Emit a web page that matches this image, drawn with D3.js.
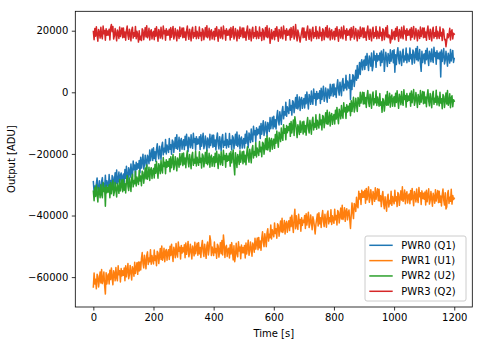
<!DOCTYPE html>
<html><head><meta charset="utf-8">
<script src="https://cdn.jsdelivr.net/npm/d3@7"></script>
<style>body{margin:0;background:#fff} svg{display:block} text{font-family:"DejaVu Sans",sans-serif}</style>
</head><body><svg id="c" width="483" height="347"></svg>
<script>
const seriesNames = ["PWR0 (Q1)", "PWR1 (U1)", "PWR2 (U2)", "PWR3 (Q2)"];
const timeStart = 0, timeStep = 2.5;
const pwr0 = [
-29000,-32500,-30400,-33500,-29700,-27800,-31300,-32800,-28700,-30700,-33200,-28900,-27700,-31800,-29700,-30900,-26900,-31600,-28700,-29900,
-31200,-26700,-30100,-28600,-31700,-27000,-27500,-31000,-28700,-26100,-29600,-25200,-29800,-28600,-25900,-30300,-27000,-26200,-29700,-27300,
-26500,-29500,-25100,-27900,-24000,-27000,-29300,-24500,-25500,-27600,-23300,-26300,-27300,-22300,-25100,-23600,-27300,-22700,-25000,-23200,
-24600,-22100,-26100,-21100,-24600,-22400,-20100,-24900,-23500,-20400,-22500,-24800,-20400,-21300,-23200,-18700,-22200,-20300,-18400,-22100,
-18000,-21500,-19300,-22400,-18600,-16700,-20100,-21600,-17500,-19400,-21800,-17500,-16200,-20300,-18200,-19400,-15300,-20000,-17100,-18200,
-19500,-15000,-18500,-17000,-20100,-15500,-16000,-19500,-17200,-14700,-18200,-13800,-18500,-17300,-14600,-19100,-15800,-15000,-18500,-16200,
-15400,-18600,-14300,-17300,-13600,-16700,-19200,-14600,-15700,-18000,-13800,-17000,-18200,-13300,-16300,-15000,-18800,-14400,-16900,-15200,
-16700,-14400,-18600,-13800,-17500,-15400,-13300,-18300,-17100,-14200,-16500,-19000,-14800,-15900,-18000,-13600,-17300,-15600,-13900,-17800,
-13900,-17500,-15500,-18700,-15000,-13200,-16800,-18400,-14400,-16500,-19000,-14800,-13700,-17900,-15900,-17200,-13300,-18100,-15300,-16600,
-17800,-13400,-16900,-15500,-18700,-14100,-14700,-18300,-16100,-13600,-17200,-12900,-17600,-16500,-13900,-18400,-15200,-14500,-18100,-15800,
-15000,-18100,-13600,-16500,-12600,-15600,-17900,-13200,-14100,-16300,-11900,-15000,-16000,-11000,-13800,-12400,-16000,-11500,-13800,-12000,
-13400,-11000,-15000,-10100,-13600,-11400,-9200,-14000,-12700,-9600,-11800,-14200,-9800,-10800,-12700,-8200,-11800,-9900,-8100,-11800,
-7800,-11200,-8900,-11900,-7900,-5900,-9200,-10600,-6300,-8200,-10400,-6000,-4600,-8600,-6300,-7400,-3200,-7800,-4700,-5800,
-6900,-2400,-5800,-4300,-7400,-2700,-3100,-6600,-4300,-1700,-5200,-800,-5400,-4200,-1500,-5900,-2500,-1700,-5200,-2800,
-2000,-5100,-800,-3700,100,-2900,-5400,-700,-1700,-3900,400,-2800,-3900,1100,-1900,-500,-4200,300,-2200,-400,
-1900,500,-3600,1300,-2300,-200,2000,-2900,-1600,1400,-800,-3200,1100,100,-1900,2600,-1100,700,2500,-1300,
2700,-800,1400,-1700,2100,4100,600,-900,3300,1300,-1100,3300,4500,500,2600,1400,5500,800,3700,2600,
1300,5800,-2300,3900,900,5700,5300,1900,4400,7200,3900,8700,4600,6400,9700,5800,9500,10600,7300,9700,
10500,7400,11700,8800,12600,9500,7100,11800,10700,8500,12800,7000,8500,13400,10500,11900,8100,12600,10200,11900,
10500,12800,8600,13400,9700,11800,13900,6800,10100,13000,10900,8400,12600,11500,9400,13800,10100,11800,13500,9600,
13800,6500,12200,9000,12700,14500,10900,9300,13300,11200,8700,12900,14000,9800,11800,10500,14400,9600,12400,11100,
10000,14400,10900,12300,9100,13700,13100,9500,11700,14200,10600,14900,10200,11300,13900,9400,6800,13300,9700,12000,
12500,9300,13600,10600,14300,11200,8700,13300,12200,9900,14100,10900,9700,14600,11600,12900,9100,13500,11000,12700,
10800,13100,5000,13700,10000,12100,14200,9200,10400,13300,11000,8500,12700,11600,9500,13900,10200,11900,13600,9700,
11000];
const pwr1 = [
-63200,-58700,-62200,-60700,-63800,-59100,-59700,-63200,-60900,-58300,-61900,-57500,-62100,-60900,-58300,-62700,-65500,-58600,-62200,-59800,
-59000,-62200,-57800,-60800,-57000,-60100,-62500,-57900,-58900,-61200,-56900,-60100,-61200,-56300,-59200,-57900,-61600,-57200,-59600,-57900,
-59400,-57000,-61200,-56300,-59900,-57700,-55600,-60500,-59200,-56200,-58500,-60900,-56600,-57600,-59700,-55200,-58800,-57000,-55300,-59100,
-55100,-58000,-55100,-57700,-53900,-52000,-55500,-57000,-52900,-54900,-57300,-53000,-51800,-55900,-53800,-55000,-51100,-55800,-53000,-54300,
-55700,-51200,-54600,-53100,-56300,-51600,-52100,-55600,-53300,-50700,-54300,-49900,-54500,-53300,-50600,-55000,-51700,-51000,-54500,-52100,
-51100,-54300,-50000,-53000,-49300,-52400,-54900,-50300,-51400,-53700,-49100,-52300,-53500,-48600,-51600,-50300,-54100,-49700,-52200,-50500,
-51800,-49500,-53700,-48900,-52600,-50500,-48400,-53400,-52200,-49300,-51600,-54100,-49900,-51000,-53100,-48700,-52400,-50700,-49000,-52900,
-48800,-52400,-50400,-53600,-49900,-48100,-51700,-53300,-49300,-51400,-53900,-49700,-48600,-52800,-50800,-46600,-48200,-53000,-50200,-51500,
-53000,-48600,-52100,-50700,-53900,-49300,-49900,-53500,-51300,-48800,-52400,-48100,-52800,-46300,-49100,-53600,-50400,-49700,-53300,-51000,
-50600,-53800,-49500,-52500,-48800,-51900,-54400,-49800,-55000,-53200,-49000,-52200,-53400,-48500,-51500,-50200,-54000,-49600,-52100,-50400,
-52100,-49700,-53800,-48900,-52500,-50300,-48000,-52900,-51600,-48600,-50800,-53200,-48900,-49900,-51900,-47400,-50900,-49100,-47300,-51100,
-47100,-50500,-48300,-51300,-47300,-45300,-48700,-50100,-45900,-47800,-50100,-45600,-44300,-48300,-46100,-47200,-43100,-47600,-44600,-45700,
-46900,-42400,-45800,-44300,-47400,-42700,-43200,-46700,-44400,-41800,-45300,-40900,-45500,-44300,-41600,-46000,-42700,-41900,-45400,-43000,
-41700,-44900,-40600,-43600,-39900,-43000,-45500,-40900,-38000,-44300,-40100,-43300,-44500,-39600,-42600,-41300,-45100,-40700,-43200,-41500,
-42300,-40000,-44200,-39400,-43100,-41000,-38900,-43900,-42700,-39800,-42100,-44600,-40400,-41500,-43600,-46000,-42900,-41200,-39500,-43400,
-39100,-42700,-40700,-43900,-40200,-38400,-42000,-43600,-39600,-41700,-43800,-39600,-38500,-42700,-40700,-42000,-38100,-42900,-40100,-41400,
-42500,-38000,-41400,-40000,-43100,-38400,-38900,-42400,-40200,-37600,-41100,-36700,-41300,-40200,-37500,-41900,-38600,-37800,-41400,-39000,
-38200,-41300,-44200,-39800,-35900,-38800,-41000,-36100,-36800,-38700,-34100,-36800,-37500,-32100,-34600,-32900,-36400,-31800,-34100,-32300,
-34100,-31800,-36000,-31200,-34900,-32800,-30700,-35700,-34500,-31600,-33900,-36400,-32200,-33300,-35400,-31000,-34700,-33000,-31300,-35200,
-31500,-35300,-33600,-37100,-33700,-32200,-36000,-37800,-33900,-36100,-38600,-34300,-33100,-37200,-35100,-36200,-32100,-36700,-33800,-35000,
-36200,-31800,-35300,-33900,-37100,-32500,-33100,-36700,-34500,-32000,-35000,-30700,-35400,-34300,-31700,-36200,-33000,-32300,-35900,-33600,
-33000,-36200,-31900,-34900,-31200,-34300,-36800,-32200,-33300,-35600,-31400,-34600,-35800,-30900,-33900,-32600,-36400,-32000,-34500,-32800,
-34700,-32400,-36600,-31800,-35500,-33400,-31300,-36300,-35100,-32200,-34500,-37000,-32800,-33900,-36000,-31600,-35300,-33600,-31900,-35800,
-32100,-35700,-33700,-36900,-33200,-31400,-35000,-36600,-32600,-37900,-37200,-33000,-31900,-36100,-34100,-35400,-31500,-36300,-33500,-34800,
-34400];
const pwr2 = [
-32100,-35200,-30900,-33800,-30100,-33100,-35600,-30900,-32000,-34200,-30000,-33100,-34200,-29300,-32200,-30900,-37000,-30200,-32600,-30900,
-32400,-30000,-34200,-29300,-32900,-30800,-28600,-33500,-32300,-29300,-31600,-34000,-29700,-30800,-32800,-28300,-32000,-30200,-28400,-32300,
-28300,-31800,-29700,-32700,-28900,-27000,-30500,-31900,-27800,-29800,-32200,-27800,-26600,-30700,-28600,-29700,-25700,-30400,-27500,-28600,
-29900,-25400,-28800,-27200,-30300,-25600,-26100,-29500,-27200,-24600,-28100,-23600,-28200,-27000,-24300,-28600,-25300,-24500,-28000,-25500,
-24700,-27800,-23400,-26300,-22500,-25500,-27900,-23200,-24200,-26400,-22100,-25100,-26200,-21200,-24100,-22700,-26400,-21900,-24300,-22500,
-24000,-21600,-25800,-20900,-24500,-22400,-20200,-25100,-23800,-20900,-23100,-25500,-21300,-22300,-24300,-19900,-23500,-21700,-19900,-23800,
-19700,-23300,-21300,-24500,-20800,-19000,-22600,-24200,-20200,-22300,-24800,-20600,-19500,-23700,-21700,-23000,-19100,-23900,-21100,-22400,
-23700,-19300,-22800,-21400,-24600,-20000,-20600,-24200,-22000,-19500,-23100,-18800,-23500,-22400,-19800,-24300,-21100,-20400,-24000,-21700,
-20900,-24100,-19800,-22800,-19100,-22200,-24700,-20100,-21200,-23500,-19300,-22500,-23700,-18800,-21800,-20500,-24300,-19900,-22400,-20700,
-22100,-19800,-24000,-19200,-22900,-20800,-18700,-23700,-26800,-19600,-21900,-24400,-20200,-21300,-23400,-19000,-22700,-21000,-19300,-23200,
-19100,-22600,-20400,-23500,-19700,-17700,-21200,-22700,-18500,-20500,-22900,-18500,-17300,-21300,-19200,-20400,-16300,-21000,-18100,-19200,
-20500,-16000,-19300,-17800,-20900,-16200,-16600,-20100,-17800,-15100,-18600,-14200,-18700,-17500,-14800,-19200,-15800,-15000,-18500,-16000,
-15200,-18200,-13700,-16500,-12600,-15500,-17800,-13000,-13900,-16000,-11600,-14600,-15600,-10500,-13300,-11800,-15400,-10800,-13100,-11200,
-12400,-10100,-14300,-9500,-13200,-11100,-9000,-14000,-7900,-9900,-12200,-14700,-10500,-11600,-13700,-9300,-13000,-11300,-9600,-13500,
-9400,-12900,-10800,-13900,-10100,-8200,-11700,-13200,-9100,-11100,-13600,-9300,-8100,-12200,-10100,-11300,-7300,-12000,-9100,-10300,
-11600,-7100,-10500,-9000,-12200,-7500,-8000,-11500,-9200,-6600,-10200,-5800,-10400,-9200,-6500,-10900,-7600,-6900,-10400,-8000,
-7200,-10300,-5800,-8700,-4900,-7900,-10200,-5500,-6500,-8600,-4300,-7400,-8400,-3400,-6300,-4900,-8500,-4000,-6400,-4500,
-6000,-3600,-7600,-2700,-6200,-3900,-1600,-6400,-5000,-1900,-3900,-6200,-1700,-2600,-4500,0,-3500,-1700,0,-3800,
-100,-3700,-1700,-4900,-1200,600,-3000,-4600,-600,-2700,-5200,-1000,100,-4100,-2100,-3400,500,-4300,-1500,-2800,
-4500,-400,-4200,-3100,-6500,-2000,-2600,-6100,-3700,-900,-4200,300,-4200,-3000,-300,-4800,-1600,-900,-4500,-2200,
-1400,-4600,-300,-3300,500,-2700,-5200,-600,-1700,-4000,300,-3000,-4200,800,-2300,-1000,-4800,-400,-2900,-1200,
-2600,-300,-4500,400,-3400,-1300,900,-4200,-3000,-100,-2400,-4900,-700,-1800,-3900,600,-3200,-1500,300,-3700,
100,-3500,-1500,-4700,-1000,800,-2800,-4400,-400,-2500,-5000,-800,300,-3900,-1900,-3200,700,-4100,-1300,-2600,
-4400,0,-3500,-2100,-5300,-700,-1300,-4900,-2700,-200,-3800,600,-4200,-3100,-500,-5000,-1800,-1100,-4700,-2400,
-2900];
const pwr3 = [
19800,17100,20700,18200,21300,18700,16600,20400,19500,17600,21100,18400,17400,21500,19000,20100,16900,20600,18500,19900,
18600,20500,17000,21000,22000,19700,21400,17300,18300,20700,18800,16700,20200,19300,17500,21200,18100,19500,20900,17700,
20900,17900,19600,16900,20000,21500,18500,17200,20500,18800,16700,20200,21100,17600,19300,18200,21400,17400,19800,18700,
16300,20000,17100,18200,16800,20600,20100,17100,18900,21000,18000,21600,17700,18600,20800,17000,19700,20300,17300,19200,
19800,17100,20700,18200,21300,18700,16600,20400,19500,17600,21100,18400,17400,21500,19000,20100,16900,20600,18500,19900,
18600,20500,17000,21000,17900,19700,21400,17300,18300,20700,18800,16700,20200,19300,17500,21200,18100,19500,20900,17700,
20900,17900,19600,16900,20000,21500,18500,17200,20500,18800,16700,20200,21100,17600,19300,18200,21400,17400,19800,18700,
17500,21200,18300,19400,16800,20600,20100,17100,18900,21000,18000,21600,17700,18600,20800,17000,19700,20300,17300,19200,
19800,17100,20700,18200,21300,18700,16600,20400,19500,17600,21100,18400,17400,21500,19000,20100,16900,20600,18500,19900,
18600,20500,17000,21000,17900,19700,21400,17300,18300,20700,18800,16700,20200,19300,17500,21200,18100,19500,20900,17700,
20900,17900,19600,16900,20000,21500,18500,17200,20500,18800,16700,20200,21100,17600,19300,18200,21400,17400,19800,18700,
17500,21200,18300,19400,16800,20600,20100,17100,18900,21000,18000,21600,17700,18600,20800,15900,17800,20300,17300,19200,
19800,17100,20700,18200,21300,18700,16600,20400,19500,17600,21100,18400,17400,21500,19000,20100,16900,20600,18500,19900,
18600,20500,17000,21000,17900,19700,21400,17300,18300,22000,18800,16700,20200,19300,17500,16300,18100,19500,20900,17700,
20900,17900,19600,16900,20000,21500,18500,17200,20500,18800,16700,20200,21100,17600,19300,18200,21400,17400,19800,18700,
17500,21200,18300,19400,16800,20600,20100,17100,18900,21000,18000,21600,17700,18600,20800,17000,19700,20300,17300,19200,
19800,17100,20700,18200,21300,18700,16600,20400,19500,17600,21100,18400,17400,21500,19000,20100,16900,20600,18500,19900,
18600,20500,17000,21000,17900,19700,21400,17300,18300,20700,18800,16700,20200,19300,17500,21200,18100,19500,20900,17700,
20900,17900,19600,16900,20000,21500,18500,17200,20500,18800,16700,20200,21100,17600,19300,18200,21400,17400,19800,18700,
17500,21200,18300,19400,16800,20600,20100,17100,18900,21000,18000,21600,17700,18600,18500,16000,17200,20300,17300,19200,
19800,17100,20700,18200,21300,18700,16600,20400,19500,17600,21100,18400,17400,21500,19000,20100,16900,20600,18500,19900,
18600,20500,17000,21000,17900,19700,21400,17300,18300,20700,18800,16700,20200,19300,17500,21200,18100,19500,20900,17700,
20900,17900,19600,16900,20000,21500,18500,17200,20500,18800,16700,20200,21100,17600,19300,18200,21400,17400,19800,18700,
17500,21200,18300,19400,16800,20600,20100,17100,17200,14800,16800,19000,17700,18600,20800,17000,19700,20300,17300,19200,
18900];
const xTicks = [0, 200, 400, 600, 800, 1000, 1200];
const yTicks = [-60000, -40000, -20000, 0, 20000];
const xLabel = "Time [s]", yLabel = "Output [ADU]";

// ---- styles ----
const colors = ["#1f77b4", "#ff7f0e", "#2ca02c", "#d62728"];
const series = [pwr0, pwr1, pwr2, pwr3];

const svg = d3.select("#c");
const L = 75.3, R = 472.3, T = 11.3, B = 307;
const x = d3.scaleLinear().domain([-60, 1260]).range([L, R]);
const y = d3.scaleLinear().domain([-69700, 26300]).range([B, T]);

const line = d3.line()
  .x((d, i) => x(timeStart + i * timeStep))
  .y(d => y(d));

series.forEach((s, k) => {
  svg.append("path").datum(s)
    .attr("d", line)
    .attr("fill", "none")
    .attr("stroke", colors[k])
    .attr("stroke-width", 1.5)
    .attr("stroke-linejoin", "round")
    .attr("stroke-linecap", "square");
});

// axes
const fmt = d3.format("d");
const gx = svg.append("g").attr("transform", `translate(0,${B})`)
  .call(d3.axisBottom(x).tickValues(xTicks).tickFormat(fmt).tickSize(3.5).tickPadding(3.5).tickSizeOuter(0));
const gy = svg.append("g").attr("transform", `translate(${L},0)`)
  .call(d3.axisLeft(y).tickValues(yTicks).tickFormat(fmt).tickSize(3.5).tickPadding(3.5).tickSizeOuter(0));
[gx, gy].forEach(g => {
  g.select(".domain").remove();
  g.selectAll(".tick line").attr("stroke", "#000").attr("stroke-width", 0.8);
  g.selectAll(".tick text").attr("fill", "#000").style("font-size", "10px").style("font-family", "DejaVu Sans");
});

// frame
svg.append("rect").attr("x", L).attr("y", T).attr("width", R - L).attr("height", B - T)
  .attr("fill", "none").attr("stroke", "#000").attr("stroke-width", 0.8);

// axis labels
svg.append("text").attr("x", (L + R) / 2).attr("y", 337).attr("text-anchor", "middle")
  .style("font-size", "10px").text(xLabel);
svg.append("text").attr("transform", `translate(15,${(T + B) / 2}) rotate(-90)`)
  .attr("text-anchor", "middle").style("font-size", "10px").text(yLabel);

// legend
const lg = svg.append("g");
lg.append("rect").attr("x", 365).attr("y", 236).attr("width", 101).attr("height", 65)
  .attr("rx", 2).attr("fill", "#fff").attr("fill-opacity", 0.8)
  .attr("stroke", "#cccccc").attr("stroke-width", 1);
seriesNames.forEach((n, k) => {
  const yy = 245.3 + k * 15.33;
  lg.append("line").attr("x1", 369.3).attr("x2", 392.7).attr("y1", yy).attr("y2", yy)
    .attr("stroke", colors[k]).attr("stroke-width", 1.5);
  lg.append("text").attr("x", 401.3).attr("y", yy).attr("dy", "0.35em")
    .style("font-size", "10px").text(n);
});
</script>
</body></html>
